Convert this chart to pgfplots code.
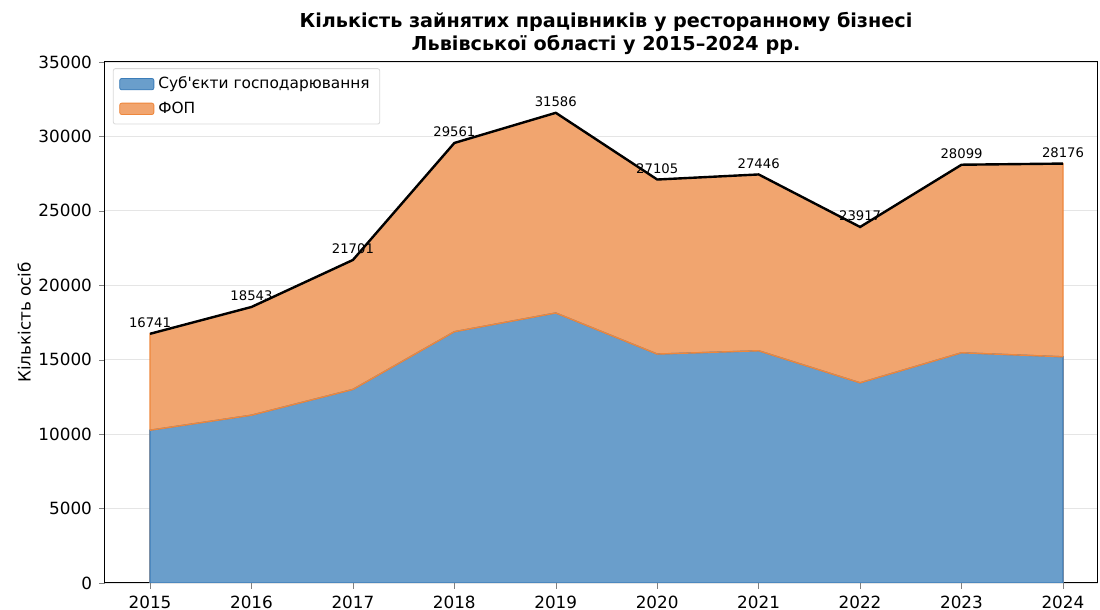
\documentclass[border=0pt]{standalone}
\usepackage{fontspec}
\setmainfont{DejaVu Sans}[Ligatures=TeXOff]
\usepackage{pgfplots}
\pgfplotsset{compat=1.18}
\definecolor{blueF}{RGB}{106,158,203}
\definecolor{blueE}{RGB}{60,125,185}
\definecolor{orangeF}{RGB}{241,165,111}
\definecolor{orangeE}{RGB}{238,135,60}
\pgfplotstableread{
x blue total
2015 10264 16741
2016 11274 18543
2017 13004 21701
2018 16881 29561
2019 18140 31586
2020 15380 27105
2021 15602 27446
2022 13448 23917
2023 15467 28099
2024 15198 28176
}\data
\begin{document}
\begin{tikzpicture}
\useasboundingbox (0,0) rectangle (550pt,305pt);
\node[font=\fontsize{9.6pt}{11.5pt}\selectfont\bfseries, align=center] at (303pt,288.5pt)
  {Кількість зайнятих працівників у ресторанному бізнесі\\Львівської області у 2015–2024 рр.};
\begin{axis}[
  at={(52.5pt,13.5pt)}, anchor=south west,
  scale only axis, width=496.5pt, height=260.5pt,
  xmin=2014.556, xmax=2024.345,
  ymin=0, ymax=35000,
  xtick={2015,...,2024},
  ytick={0,5000,...,35000},
  /pgf/number format/1000 sep={},
  /pgf/number format/assume math mode=true,
  scaled y ticks=false,
  tick label style={font=\fontsize{8.4pt}{10pt}\selectfont},
  tick align=outside, tick pos=left,
  major tick length=3pt,
  ymajorgrids, grid style={gray!20, line width=0.4pt},
  axis line style={black, line width=0.5pt},
  ylabel={Кількість осіб},
  ylabel style={font=\fontsize{8.4pt}{10pt}\selectfont, yshift=-3pt},
  legend style={at={(0.008,0.988)}, anchor=north west, draw=gray!30, rounded corners=1pt,
    font=\fontsize{7.7pt}{9pt}\selectfont, row sep=1pt, inner xsep=3pt, inner ysep=2pt},
  legend cell align=left,
]
\addlegendimage{area legend, fill=blueF, draw=blueE}
\addlegendentry{Суб'єкти господарювання}
\addlegendimage{area legend, fill=orangeF, draw=orangeE}
\addlegendentry{ФОП}
\addplot[fill=orangeF, draw=orangeE, line width=0.6pt, forget plot] table[x=x, y=total] {\data} \closedcycle;
\addplot[fill=blueF, draw=blueE, line width=0.6pt, forget plot] table[x=x, y=blue] {\data} \closedcycle;
\addplot[draw=orangeE, line width=0.7pt, forget plot] table[x=x, y=blue] {\data};
\addplot[draw=black, line width=1.2pt, forget plot,
  nodes near coords, point meta=explicit symbolic,
  every node near coord/.append style={font=\fontsize{6.6pt}{8pt}\selectfont, anchor=south, yshift=-1pt}]
  table[x=x, y=total, meta=total] {\data};
\end{axis}
\end{tikzpicture}
\end{document}
